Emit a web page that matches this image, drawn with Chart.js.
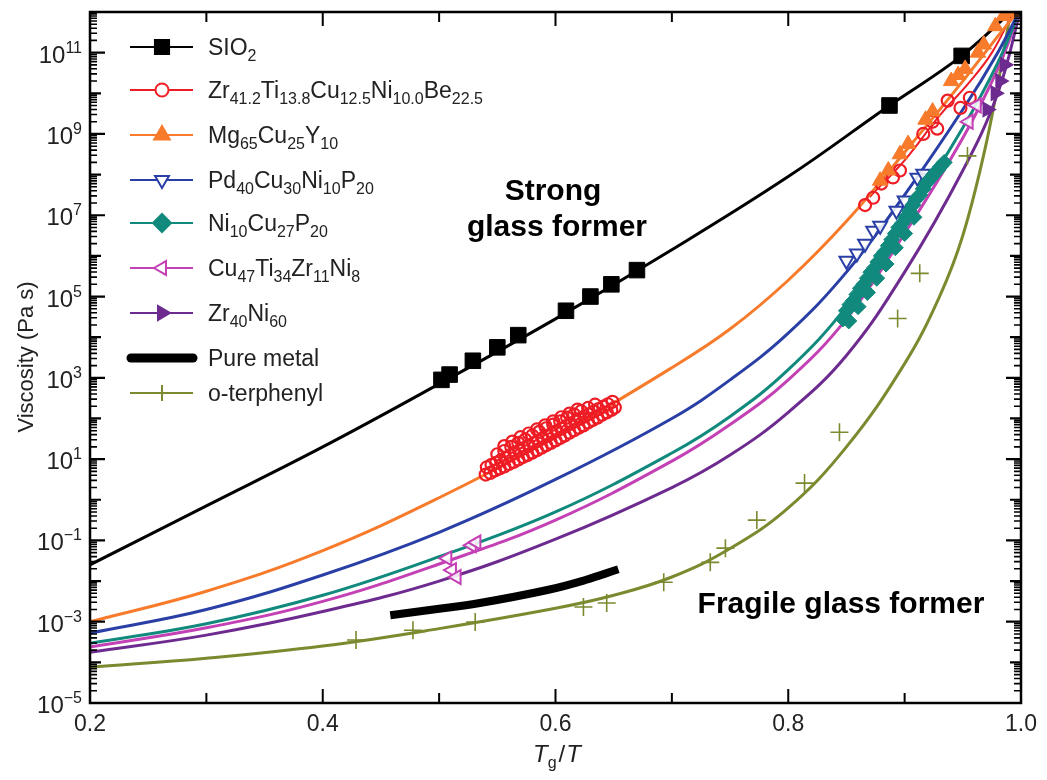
<!DOCTYPE html>
<html>
<head>
<meta charset="utf-8">
<script src="https://cdn.jsdelivr.net/npm/chart.js@4.4.1/dist/chart.umd.min.js"></script>
<style>
html, body { margin: 0; padding: 0; background: #fff; }
#wrap { width: 1047px; height: 780px; }
</style>
</head>
<body>
<div id="wrap"><canvas id="viscChart"></canvas></div>
<script>
// all pairs are [Tg/T, log10(viscosity in Pa s)]
var sio2Fit = [[0.2,-1.6],[0.3,-0.15],[0.4,1.3],[0.5,2.85],[0.6,4.45],[0.7,6.15],[0.8,7.95],[0.887,9.7],[0.949,10.92],[0.995,12.1]];
var sio2Pts = [[0.502,2.95],[0.509,3.08],[0.529,3.42],[0.55,3.75],[0.568,4.05],[0.609,4.65],[0.63,5.0],[0.648,5.3],[0.67,5.65],[0.887,9.7],[0.949,10.92]];

var vitFit = [[0.87,7.45],[0.9,8.35],[0.93,9.45],[0.955,10.25],[0.975,11.0],[0.995,12.1]];
var vitPts = [
  [0.540,0.62],[0.544,0.66],[0.548,0.72],[0.552,0.77],[0.556,0.82],[0.560,0.88],[0.564,0.93],[0.568,0.99],[0.572,1.05],[0.576,1.10],
  [0.580,1.16],[0.584,1.22],[0.588,1.28],[0.592,1.34],[0.596,1.40],[0.600,1.46],[0.604,1.52],[0.608,1.58],[0.612,1.65],[0.616,1.71],
  [0.620,1.77],[0.624,1.83],[0.628,1.90],[0.632,1.96],[0.636,2.02],[0.640,2.09],[0.644,2.15],[0.648,2.21],[0.651,2.27],
  [0.541,0.80],[0.545,0.86],[0.549,0.91],[0.553,0.97],[0.557,1.03],[0.561,1.09],[0.565,1.15],[0.569,1.21],[0.573,1.27],[0.577,1.33],
  [0.581,1.39],[0.585,1.45],[0.589,1.51],[0.593,1.57],[0.597,1.63],[0.601,1.69],[0.605,1.75],[0.609,1.81],[0.613,1.87],[0.617,1.93],
  [0.621,1.99],[0.625,2.05],[0.629,2.11],[0.633,2.17],[0.637,2.23],[0.641,2.29],[0.645,2.35],[0.649,2.41],
  [0.550,1.12],[0.556,1.20],[0.562,1.30],[0.568,1.40],[0.574,1.48],[0.580,1.58],[0.586,1.67],[0.592,1.76],[0.598,1.85],[0.604,1.93],
  [0.610,2.02],[0.616,2.10],[0.622,2.18],[0.628,2.26],[0.634,2.34],
  [0.556,1.32],[0.563,1.43],[0.570,1.54],[0.577,1.63],[0.584,1.73],[0.591,1.83],[0.598,1.93],[0.605,2.03],[0.612,2.12],[0.619,2.22],
  [0.866,7.25],[0.873,7.43],[0.880,7.78],[0.890,7.93],[0.896,8.10],[0.916,9.0],[0.924,9.3],[0.928,9.13],[0.937,9.82],[0.948,9.64],[0.956,9.89]];

var mgFit = [[0.2,-3.0],[0.3,-2.25],[0.4,-1.25],[0.5,0.05],[0.6,1.55],[0.7,3.25],[0.75,4.2],[0.8,5.4],[0.85,6.85],[0.9,8.55],[0.95,10.3],[0.98,11.4],[1.0,12.1]];
var mgPts = [[0.879,7.85],[0.886,8.1],[0.896,8.5],[0.903,8.75],[0.918,9.35],[0.924,9.55],[0.94,10.3],[0.946,10.45],[0.952,10.6],[0.963,11.0],[0.968,11.2],[0.978,11.65],[0.985,11.9],[0.992,12.0]];

var pdFit = [[0.2,-3.28],[0.3,-2.7],[0.4,-1.85],[0.5,-0.8],[0.6,0.5],[0.7,2.0],[0.75,2.95],[0.8,4.1],[0.85,5.6],[0.9,7.5],[0.95,9.6],[0.98,11.0],[1.0,12.1]];
var pdPts = [[0.85,5.88],[0.859,6.06],[0.866,6.3],[0.873,6.62],[0.879,6.74],[0.893,7.11],[0.9,7.36],[0.911,7.92],[0.916,8.02]];

var niFit = [[0.2,-3.53],[0.3,-3.05],[0.4,-2.35],[0.5,-1.4],[0.6,-0.3],[0.7,1.15],[0.75,2.05],[0.8,3.2],[0.85,4.75],[0.9,6.85],[0.95,9.15],[0.98,10.75],[1.0,12.1]];
var niPts = [[0.847,4.45],[0.850,4.65],[0.853,4.80],[0.856,4.90],[0.859,5.05],[0.862,5.20],[0.865,5.30],[0.868,5.45],
  [0.871,5.60],[0.874,5.70],[0.877,5.85],[0.880,6.00],[0.883,6.10],[0.886,6.25],[0.889,6.40],[0.892,6.55],[0.895,6.70],
  [0.898,6.80],[0.901,6.95],[0.904,7.10],[0.907,7.25],[0.910,7.40],[0.913,7.50],[0.916,7.65],[0.919,7.80],[0.922,7.90],
  [0.925,8.00],[0.928,8.10],[0.931,8.20],[0.934,8.30],
  [0.852,4.40],[0.860,4.75],[0.868,5.10],[0.876,5.45],[0.884,5.80],[0.892,6.20],[0.900,6.55],[0.908,6.95]];

var cuFit = [[0.2,-3.62],[0.3,-3.15],[0.4,-2.5],[0.5,-1.58],[0.6,-0.5],[0.7,0.95],[0.75,1.85],[0.8,2.95],[0.85,4.45],[0.9,6.55],[0.95,8.9],[0.98,10.6],[1.0,12.1]];
var cuPts = [[0.507,-1.44],[0.511,-1.73],[0.515,-1.9],[0.528,-1.12],[0.532,-1.05],[0.955,9.3],[0.962,9.7]];

var zrFit = [[0.2,-3.75],[0.3,-3.33],[0.4,-2.75],[0.5,-2.0],[0.6,-0.97],[0.7,0.3],[0.75,1.1],[0.8,2.15],[0.85,3.55],[0.9,5.6],[0.95,8.1],[0.98,10.0],[1.0,12.1]];
var zrPts = [[0.971,9.6],[0.978,10.0],[0.982,10.3],[0.986,10.7]];

var pureMetal = [[0.458,-2.84],[0.5,-2.68],[0.535,-2.54],[0.593,-2.22],[0.625,-1.98],[0.654,-1.71]];

var otpFit = [[0.2,-4.12],[0.3,-3.9],[0.4,-3.6],[0.5,-3.17],[0.6,-2.67],[0.65,-2.35],[0.7,-1.9],[0.75,-1.2],[0.8,-0.2],[0.85,1.3],[0.9,3.35],[0.93,5.0],[0.95,6.5],[0.97,8.75],[0.985,11.0],[0.995,12.7]];
var otpPts = [[0.4286,-3.45],[0.4775,-3.21],[0.531,-3.01],[0.624,-2.64],[0.644,-2.54],[0.693,-2.03],[0.733,-1.54],[0.746,-1.19],[0.773,-0.5],[0.814,0.41],[0.844,1.66],[0.894,4.46],[0.913,5.57],[0.954,8.46]];

var yTickExps = [-5, -3, -1, 1, 3, 5, 7, 9, 11];
var xTickVals = [0.2, 0.4, 0.6, 0.8, 1.0];
var xTickLabels = ['0.2', '0.4', '0.6', '0.8', '1.0'];

// legend text, [text, kind]: n = normal, b = subscript
var legendLabels = [
  [['SIO','n'],['2','b']],
  [['Zr','n'],['41.2','b'],['Ti','n'],['13.8','b'],['Cu','n'],['12.5','b'],['Ni','n'],['10.0','b'],['Be','n'],['22.5','b']],
  [['Mg','n'],['65','b'],['Cu','n'],['25','b'],['Y','n'],['10','b']],
  [['Pd','n'],['40','b'],['Cu','n'],['30','b'],['Ni','n'],['10','b'],['P','n'],['20','b']],
  [['Ni','n'],['10','b'],['Cu','n'],['27','b'],['P','n'],['20','b']],
  [['Cu','n'],['47','b'],['Ti','n'],['34','b'],['Zr','n'],['11','b'],['Ni','n'],['8','b']],
  [['Zr','n'],['40','b'],['Ni','n'],['60','b']],
  [['Pure metal','n']],
  [['o-terphenyl','n']]
];

var FONT = "'Liberation Sans', Arial, Helvetica, sans-serif";
var col = {
  black: '#000000', red: '#ee1d25', orange: '#f77b2b', blue: '#2a3fa6',
  teal: '#118a7d', magenta: '#c340b5', purple: '#6d2b8f', olive: '#7a8a2f'
};

function pts(arr) {
  return arr.map(function (p) { return { x: p[0], y: Math.pow(10, p[1]) }; });
}
function fitSet(arr, color, width) {
  return { data: pts(arr), showLine: true, borderColor: color, borderWidth: width, pointRadius: 0,
    fill: false, tension: 0.4, order: 3 };
}
function markSet(arr, style, color, fill, r, rot, bw) {
  return { data: pts(arr), showLine: false, pointStyle: style, pointRadius: r, pointRotation: rot,
    pointBackgroundColor: fill, pointBorderColor: color, pointBorderWidth: bw, order: 1 };
}

// legend rows (drawn by the plugin below)
var legendRows = [
  { color: col.black, style: 'rect', fill: col.black, r: 10, rot: 0, y: 47 },
  { color: col.red, style: 'circle', fill: '#fff', r: 6.5, rot: 0, y: 90 },
  { color: col.orange, style: 'triangle', fill: col.orange, r: 9, rot: 0, y: 135 },
  { color: col.blue, style: 'triangle', fill: '#fff', r: 8, rot: 180, y: 180 },
  { color: col.teal, style: 'rectRot', fill: col.teal, r: 9, rot: 0, y: 223 },
  { color: col.magenta, style: 'triangle', fill: '#fff', r: 8, rot: 270, y: 268 },
  { color: col.purple, style: 'triangle', fill: col.purple, r: 8, rot: 90, y: 313 },
  { color: col.black, style: 'thick', y: 358 },
  { color: col.olive, style: 'cross', fill: col.olive, r: 8, rot: 0, y: 393 }
];

function partsWidth(ctx, parts, size, subSize) {
  var w = 0;
  parts.forEach(function (p) {
    ctx.font = (p[1] === 'n' ? size : subSize) + 'px ' + FONT;
    w += ctx.measureText(p[0]).width;
  });
  return w;
}
function drawParts(ctx, parts, x, y, size, subSize, shift) {
  parts.forEach(function (p) {
    var s = p[1] === 'n' ? size : subSize;
    ctx.font = s + 'px ' + FONT;
    var dy = p[1] === 'b' ? shift : (p[1] === 'p' ? -shift : 0);
    ctx.fillText(p[0], x, y + dy);
    x += ctx.measureText(p[0]).width;
  });
}

function marker(ctx, row, x, y) {
  ctx.save();
  ctx.fillStyle = row.fill;
  ctx.strokeStyle = row.color;
  ctx.lineWidth = 2;
  Chart.helpers.drawPoint(ctx, { pointStyle: row.style, radius: row.r, rotation: row.rot, borderWidth: 2 }, x, y);
  ctx.restore();
}

var axesPlugin = {
  id: 'axesPlugin',
  afterDraw: function (chart) {
    var ctx = chart.ctx, a = chart.chartArea;
    var xs = chart.scales.x, ys = chart.scales.y;
    ctx.save();
    ctx.strokeStyle = '#000';

    // y ticks, inward on both sides
    for (var e = -5; e <= 12; e++) {
      var py = ys.getPixelForValue(Math.pow(10, e));
      var len = (e % 2 !== 0) ? 15 : 11;
      ctx.lineWidth = 2.2;
      ctx.beginPath();
      ctx.moveTo(a.left, py); ctx.lineTo(a.left + len, py);
      ctx.moveTo(a.right, py); ctx.lineTo(a.right - len, py);
      ctx.stroke();
      if (e < 12) {
        ctx.lineWidth = 1.6;
        ctx.beginPath();
        for (var m = 2; m <= 9; m++) {
          var pm = ys.getPixelForValue(m * Math.pow(10, e));
          ctx.moveTo(a.left, pm); ctx.lineTo(a.left + 7, pm);
          ctx.moveTo(a.right, pm); ctx.lineTo(a.right - 7, pm);
        }
        ctx.stroke();
      }
    }
    // x ticks, top and bottom
    for (var i = 2; i <= 10; i++) {
      var px = xs.getPixelForValue(i / 10);
      var l2 = (i % 2 === 0) ? 14 : 10;
      ctx.lineWidth = 2;
      ctx.beginPath();
      ctx.moveTo(px, a.bottom); ctx.lineTo(px, a.bottom - l2);
      ctx.moveTo(px, a.top); ctx.lineTo(px, a.top + l2);
      ctx.stroke();
    }
    // frame
    ctx.lineWidth = 2.5;
    ctx.strokeRect(a.left, a.top, a.right - a.left, a.bottom - a.top);

    ctx.fillStyle = '#222';
    ctx.textBaseline = 'alphabetic';
    // y tick labels 10^n
    yTickExps.forEach(function (ex) {
      var py = ys.getPixelForValue(Math.pow(10, ex));
      var sup = ex < 0 ? '\u2212' + (-ex) : String(ex);
      var parts = [['10', 'n'], [sup, 'p']];
      var w = partsWidth(ctx, parts, 24, 16);
      drawParts(ctx, parts, 82 - w, py + 10, 24, 16, 10);
    });
    // x tick labels
    ctx.font = '23px ' + FONT;
    ctx.textAlign = 'center';
    xTickVals.forEach(function (v, k) {
      ctx.fillText(xTickLabels[k], xs.getPixelForValue(v), 731);
    });

    // axis titles
    ctx.save();
    ctx.translate(33, 357);
    ctx.rotate(-Math.PI / 2);
    ctx.font = '22px ' + FONT;
    ctx.fillText('Viscosity (Pa s)', 0, 0);
    ctx.restore();

    ctx.textAlign = 'left';
    var tx = 533;
    ctx.font = 'italic 24px ' + FONT;
    ctx.fillText('T', tx, 762);
    tx += ctx.measureText('T').width;
    ctx.font = '16px ' + FONT;
    ctx.fillText('g', tx, 768);
    tx += ctx.measureText('g').width + 2;
    ctx.font = '24px ' + FONT;
    ctx.fillText('/', tx, 762);
    tx += ctx.measureText('/').width + 1;
    ctx.font = 'italic 24px ' + FONT;
    ctx.fillText('T', tx, 762);

    // annotations
    ctx.fillStyle = '#000';
    ctx.textAlign = 'center';
    ctx.font = 'bold 30px ' + FONT;
    ctx.fillText('Strong', 553, 200);
    ctx.fillText('glass former', 557, 236);
    ctx.fillText('Fragile glass former', 841, 613);

    // legend
    ctx.textAlign = 'left';
    legendRows.forEach(function (row, k) {
      var y = row.y;
      if (row.style === 'thick') {
        ctx.strokeStyle = row.color;
        ctx.lineWidth = 9;
        ctx.lineCap = 'round';
        ctx.beginPath(); ctx.moveTo(131, y); ctx.lineTo(193, y); ctx.stroke();
        ctx.lineCap = 'butt';
      } else {
        ctx.strokeStyle = row.color;
        ctx.lineWidth = 2;
        ctx.beginPath(); ctx.moveTo(130, y); ctx.lineTo(193, y); ctx.stroke();
        marker(ctx, row, 162, y);
      }
      ctx.fillStyle = '#222';
      drawParts(ctx, legendLabels[k], 208, y + 8, 23, 16, 6);
    });
    ctx.restore();
  }
};

var ctx = document.getElementById('viscChart').getContext('2d');
var viscChart = new Chart(ctx, {
  type: 'scatter',
  data: {
    datasets: [
      fitSet(sio2Fit, col.black, 3),
      fitSet(mgFit, col.orange, 3),
      fitSet(vitFit, col.red, 2),
      fitSet(pdFit, col.blue, 3),
      fitSet(niFit, col.teal, 3),
      fitSet(cuFit, col.magenta, 3),
      fitSet(zrFit, col.purple, 3),
      fitSet(otpFit, col.olive, 3),
      fitSet(pureMetal, col.black, 8),
      markSet(otpPts, 'cross', col.olive, col.olive, 9, 0, 1.6),
      markSet(zrPts, 'triangle', col.purple, col.purple, 8, 90, 1.5),
      markSet(cuPts, 'triangle', col.magenta, 'rgba(255,255,255,0.85)', 8, 270, 2),
      markSet(niPts, 'rectRot', col.teal, col.teal, 8, 0, 1),
      markSet(pdPts, 'triangle', col.blue, 'rgba(255,255,255,0.85)', 8, 180, 2),
      markSet(mgPts, 'triangle', col.orange, col.orange, 9, 0, 1),
      markSet(vitPts, 'circle', col.red, 'rgba(255,255,255,0)', 6, 0, 2.2),
      markSet(sio2Pts, 'rect', col.black, col.black, 11, 0, 1)
    ]
  },
  options: {
    responsive: true,
    maintainAspectRatio: false,
    animation: false,
    layout: { padding: { left: 90, right: 26, top: 10, bottom: 77 } },
    plugins: { legend: { display: false }, tooltip: { enabled: false } },
    scales: {
      x: { type: 'linear', min: 0.2, max: 1.0, display: false },
      y: { type: 'logarithmic', min: 1e-5, max: 1e12, display: false }
    }
  },
  plugins: [axesPlugin]
});
</script>
</body>
</html>
